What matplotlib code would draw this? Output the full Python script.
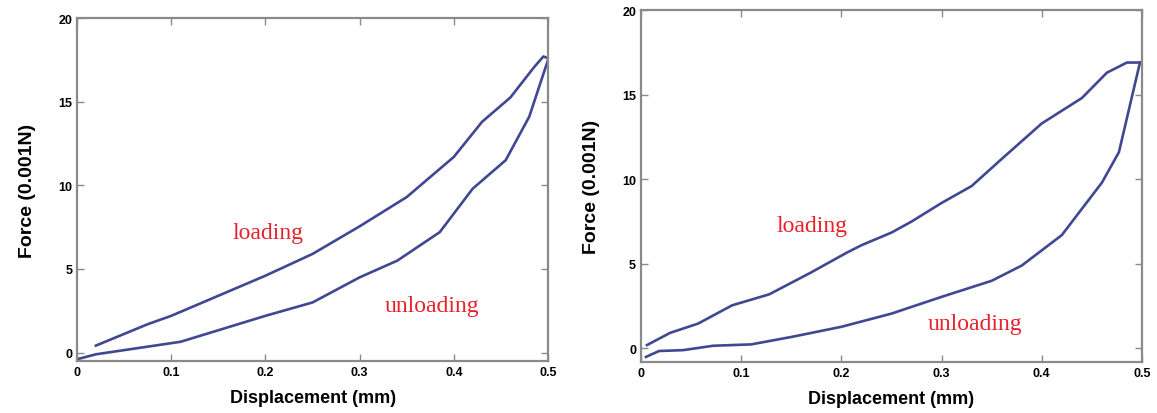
import matplotlib
matplotlib.use('Agg')
import matplotlib.pyplot as plt

# left panel
left_load_x = [0.02, 0.075, 0.1, 0.2, 0.25, 0.3, 0.35, 0.4, 0.43, 0.46, 0.485, 0.495, 0.5]
left_load_y = [0.42, 1.7, 2.2, 4.6, 5.9, 7.55, 9.3, 11.7, 13.8, 15.25, 17.05, 17.7, 17.6]
left_unload_x = [0.001, 0.02, 0.11, 0.2, 0.25, 0.3, 0.34, 0.385, 0.42, 0.455, 0.48, 0.5]
left_unload_y = [-0.38, -0.1, 0.65, 2.2, 3.0, 4.5, 5.5, 7.2, 9.8, 11.5, 14.1, 17.5]

# right panel
right_load_x = [0.006, 0.029, 0.057, 0.091, 0.128, 0.17, 0.205, 0.22, 0.25, 0.27, 0.3, 0.33, 0.36, 0.4, 0.44, 0.465, 0.485, 0.498]
right_load_y = [0.2, 0.92, 1.47, 2.55, 3.2, 4.5, 5.65, 6.1, 6.85, 7.5, 8.6, 9.6, 11.2, 13.3, 14.8, 16.3, 16.9, 16.9]
right_unload_x = [0.005, 0.018, 0.042, 0.072, 0.11, 0.151, 0.2, 0.25, 0.3, 0.35, 0.38, 0.42, 0.44, 0.46, 0.477, 0.498]
right_unload_y = [-0.5, -0.15, -0.1, 0.16, 0.24, 0.69, 1.28, 2.06, 3.05, 4.0, 4.9, 6.7, 8.25, 9.8, 11.6, 16.9]

xticks = [0, 0.1, 0.2, 0.3, 0.4, 0.5]
xticklabels = ['0', '0.1', '0.2', '0.3', '0.4', '0.5']
yticks = [0, 5, 10, 15, 20]

line_color = '#3f4890'
text_color = '#e8202a'
spine_color = '#8a8a8a'

fig = plt.figure(figsize=(11.57, 4.14), dpi=100)
ax1 = fig.add_axes([0.0666, 0.1256, 0.4071, 0.8285])
ax2 = fig.add_axes([0.554, 0.1232, 0.433, 0.850])

panels = [
    (ax1, left_load_x, left_load_y, left_unload_x, left_unload_y, -0.5, (0.203, 7.2), (0.377, 2.8)),
    (ax2, right_load_x, right_load_y, right_unload_x, right_unload_y, -0.8, (0.171, 7.25), (0.333, 1.45)),
]

for ax, lx, ly, ux, uy, ymin, lpos, upos in panels:
    ax.plot(lx, ly, color=line_color, lw=1.9)
    ax.plot(ux, uy, color=line_color, lw=1.9)
    ax.set_xlim(0, 0.5)
    ax.set_ylim(ymin, 20)
    ax.set_xticks(xticks)
    ax.set_xticklabels(xticklabels)
    ax.set_xticks([0.05, 0.15, 0.25, 0.35, 0.45], minor=True)
    ax.set_yticks(yticks)
    ax.tick_params(which='both', direction='in', top=True, right=True,
                   color=spine_color, length=5, width=1)
    ax.tick_params(which='minor', length=0)
    for lab in ax.get_xticklabels() + ax.get_yticklabels():
        lab.set_fontweight('bold')
        lab.set_fontsize(9)
        lab.set_family('Liberation Sans')
    for s in ax.spines.values():
        s.set_color(spine_color)
        s.set_linewidth(1.6)
    ax.set_xlabel('Displacement (mm)', fontsize=13, fontweight='bold',
                  family='Liberation Sans', labelpad=8)
    ax.set_ylabel('Force (0.001N)', fontsize=14, fontweight='bold',
                  family='Liberation Sans', labelpad=16)
    ax.text(lpos[0], lpos[1], 'loading', color=text_color, fontsize=17,
            family='Liberation Serif', ha='center', va='center')
    ax.text(upos[0], upos[1], 'unloading', color=text_color, fontsize=17,
            family='Liberation Serif', ha='center', va='center')

fig.savefig('out.png', dpi=100)
